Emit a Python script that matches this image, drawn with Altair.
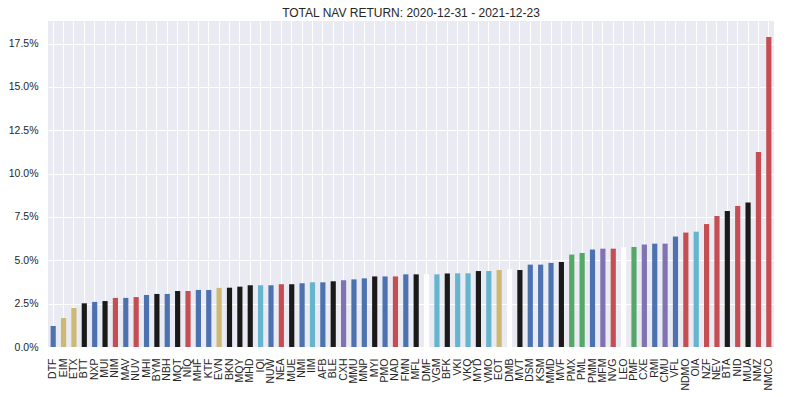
import altair as alt
import pandas as pd

tickers = ["DTF", "EIM", "ETX", "BTT", "NXP", "MUI", "NIM", "MAV", "NUV", "MHI",
           "BYM", "NBH", "MQT", "NIQ", "MHF", "KTF", "EVN", "BKN", "MQY", "MHD",
           "IQI", "NUW", "NEA", "MUE", "NMI", "IIM", "AFB", "BLE", "CXH", "MMU",
           "MNP", "MYI", "PMO", "NAD", "FMN", "MFL", "DMF", "VGM", "BFK", "VKI",
           "VKQ", "MYD", "VMO", "EOT", "DMB", "MVT", "DSM", "KSM", "MMD", "MVF",
           "PMX", "PML", "PMM", "MFM", "NVG", "LEO", "PMF", "CXE", "RMI", "CMU",
           "VFL", "NDMO", "OIA", "NZF", "NEV", "BTA", "NID", "MUA", "NMZ", "NMCO"]

returns = [1.21, 1.67, 2.25, 2.52, 2.60, 2.65, 2.83, 2.83, 2.88, 3.00,
           3.06, 3.06, 3.23, 3.23, 3.29, 3.29, 3.41, 3.42, 3.48, 3.56,
           3.56, 3.56, 3.62, 3.62, 3.67, 3.73, 3.73, 3.79, 3.85, 3.90,
           3.96, 4.07, 4.07, 4.07, 4.19, 4.19, 4.20, 4.19, 4.24, 4.25,
           4.25, 4.38, 4.38, 4.44, 4.48, 4.44, 4.75, 4.75, 4.85, 4.90,
           5.33, 5.42, 5.62, 5.67, 5.67, 5.75, 5.77, 5.91, 5.96, 5.96,
           6.37, 6.60, 6.65, 7.09, 7.56, 7.84, 8.13, 8.33, 11.25, 17.88]

color_codes = ["b", "y", "y", "k", "b", "k", "r", "b", "r", "b",
               "k", "b", "k", "r", "b", "b", "y", "k", "k", "k",
               "c", "b", "r", "k", "b", "c", "b", "k", "m", "b",
               "b", "k", "b", "r", "b", "k", "w", "c", "k", "c",
               "c", "k", "c", "y", "w", "k", "b", "b", "b", "k",
               "g", "g", "b", "m", "r", "w", "g", "m", "b", "m",
               "b", "r", "c", "r", "r", "k", "r", "k", "r", "r"]

palette = {"b": "#4C72B0", "g": "#55A868", "r": "#C44E52", "m": "#8172B2",
           "y": "#CCB974", "c": "#64B5CD", "k": "#1A1A1A", "w": "#FFFFFF"}

y_ticks = [0.0, 0.025, 0.05, 0.075, 0.10, 0.125, 0.15, 0.175]

df = pd.DataFrame({
    "ticker": tickers,
    "ret": [v / 100 for v in returns],
    "color": [palette[c] for c in color_codes],
})

chart = alt.Chart(df).mark_bar().encode(
    x=alt.X("ticker:N", sort=tickers, title=None,
            scale=alt.Scale(paddingInner=0.5, paddingOuter=0.25),
            axis=alt.Axis(labelAngle=270, labelAlign="right", labelBaseline="middle",
                          ticks=False, tickSize=0, labelPadding=11, domain=False,
                          grid=True, gridColor="white", gridWidth=1,
                          labelFont="Liberation Sans", labelFontSize=10.5,
                          labelColor="#262626", bandPosition=0.5)),
    y=alt.Y("ret:Q", title=None,
            scale=alt.Scale(domain=[0, 0.188], nice=False, zero=True),
            axis=alt.Axis(values=y_ticks, format=".1%", ticks=False, tickSize=0,
                          labelPadding=10, domain=False, grid=True,
                          gridColor="white", gridWidth=1,
                          labelFont="Liberation Sans", labelFontSize=10.5,
                          labelColor="#262626")),
    color=alt.Color("color:N", scale=None),
).properties(
    width=726,
    height=326,
    title=alt.TitleParams("TOTAL NAV RETURN: 2020-12-31 - 2021-12-23",
                          font="Liberation Sans", fontSize=12, fontWeight="normal",
                          color="#262626", offset=1, anchor="middle"),
    autosize=alt.AutoSizeParams(type="none"),
    padding={"left": 40, "top": 13, "right": 4, "bottom": 48},
).configure(
    background="white"
).configure_view(
    fill="#EAEAF2", stroke=None, strokeWidth=0
)

chart.save("out.html", embed_options={"renderer": "svg", "actions": False})
